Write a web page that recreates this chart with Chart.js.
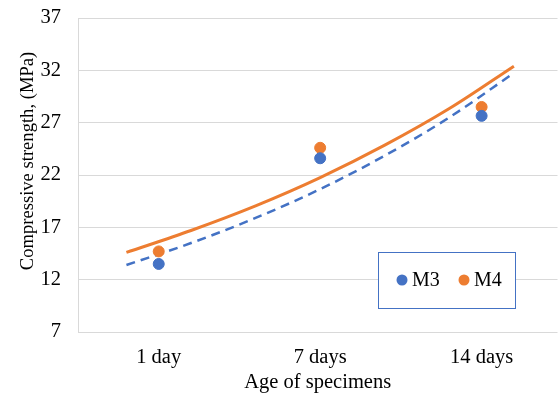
<!DOCTYPE html>
<html>
<head>
<meta charset="utf-8">
<script src="https://cdn.jsdelivr.net/npm/chart.js@4/dist/chart.umd.min.js"></script>
<style>
  html, body { margin: 0; padding: 0; background: #fff; overflow: hidden; }
  #wrap { width: 558px; height: 398px; position: relative; overflow: hidden; }
</style>
</head>
<body>
<!-- canvas a little wider than the picture: the plot area runs off the right edge -->
<div id="wrap"><canvas id="chart" width="564" height="398"></canvas></div>
<script>
const categories = ['1 day', '7 days', '14 days'];
const catIndex = [1, 2, 3];
const m3Values = [13.5, 23.6, 27.65];
const m4Values = [14.7, 24.6, 28.5];

// trendline positions (category units, forecast 0.2 either side)
const trendX = [0.8, 1.2, 1.6, 2.0, 2.4, 2.8, 3.2];
const m3Trend = [13.4, 15.5, 17.9, 20.65, 23.85, 27.5, 31.75];
const m4Trend = [14.6, 16.7, 19.05, 21.75, 24.85, 28.35, 32.4];

const yTicks = [7, 12, 17, 22, 27, 32, 37];

const blue = '#4472C4';
const orange = '#ED7D31';
const font = 'Liberation Serif, Times New Roman, serif';

const pts = (xs, ys) => xs.map((x, i) => ({ x, y: ys[i] }));

// legend box and the y title (Excel puts it a bit above the plot centre)
const extras = {
  id: 'extras',
  afterDraw(chart) {
    const ctx = chart.ctx;
    ctx.save();
    ctx.fillStyle = '#fff';
    ctx.fillRect(378, 252, 138, 57);
    ctx.strokeStyle = blue;
    ctx.lineWidth = 1;
    ctx.strokeRect(378.5, 252.5, 137, 56);
    const items = [
      { label: 'M3', color: blue, dot: 402, text: 412 },
      { label: 'M4', color: orange, dot: 464, text: 474 }
    ];
    ctx.font = '20px ' + font;
    ctx.textBaseline = 'middle';
    items.forEach(it => {
      ctx.fillStyle = it.color;
      ctx.beginPath();
      ctx.arc(it.dot, 280, 5.5, 0, Math.PI * 2);
      ctx.fill();
      ctx.fillStyle = '#000';
      ctx.fillText(it.label, it.text, 281);
    });

    ctx.translate(28, 161);
    ctx.rotate(-Math.PI / 2);
    ctx.font = '18.6px ' + font;
    ctx.textAlign = 'center';
    ctx.fillStyle = '#000';
    ctx.fillText('Compressive strength, (MPa)', 0, 0);
    ctx.restore();
  }
};

const ctx = document.getElementById('chart').getContext('2d');
new Chart(ctx, {
  type: 'scatter',
  data: {
    datasets: [
      {
        label: 'M3',
        data: pts(catIndex, m3Values),
        backgroundColor: blue,
        borderColor: blue,
        pointRadius: 5.5,
        order: 0
      },
      {
        label: 'M4',
        data: pts(catIndex, m4Values),
        backgroundColor: orange,
        borderColor: orange,
        pointRadius: 5.5,
        order: 0
      },
      {
        label: 'M3 trend',
        data: pts(trendX, m3Trend),
        showLine: true,
        borderColor: blue,
        borderWidth: 2.5,
        borderDash: [9, 6],
        pointRadius: 0,
        cubicInterpolationMode: 'monotone',
        order: 2
      },
      {
        label: 'M4 trend',
        data: pts(trendX, m4Trend),
        showLine: true,
        borderColor: orange,
        borderWidth: 3,
        pointRadius: 0,
        cubicInterpolationMode: 'monotone',
        order: 1
      }
    ]
  },
  options: {
    responsive: false,
    animation: false,
    layout: { padding: { top: 0, right: 0, bottom: 3, left: 0 } },
    plugins: {
      legend: { display: false },
      tooltip: { enabled: false }
    },
    scales: {
      x: {
        type: 'linear',
        min: 0.5,
        max: 3.47,
        afterBuildTicks: axis => { axis.ticks = catIndex.map(v => ({ value: v })); },
        afterFit: axis => {
          axis.height = 63;
          axis.paddingLeft = 0;
          axis.paddingRight = 0;
        },
        ticks: {
          callback: v => categories[v - 1],
          color: '#000',
          font: { family: font, size: 20.5 },
          padding: 13,
          maxRotation: 0
        },
        grid: { display: false, drawTicks: false },
        border: { display: false },
        title: {
          display: true,
          text: 'Age of specimens',
          color: '#000',
          font: { family: font, size: 20.5 },
          padding: { top: 0, bottom: 0 }
        }
      },
      y: {
        min: 7,
        max: 37,
        afterBuildTicks: axis => { axis.ticks = yTicks.map(v => ({ value: v })); },
        afterFit: axis => {
          axis.width = 78;
          axis.paddingTop = 18;
          axis.paddingBottom = 0;
          axis.paddingLeft = 0;
          axis.paddingRight = 0;
        },
        ticks: {
          color: '#000',
          font: { family: font, size: 20.5 },
          padding: 17
        },
        grid: { color: '#d9d9d9', lineWidth: 1, drawTicks: false },
        border: { display: true, color: '#d9d9d9' }
      }
    }
  },
  plugins: [extras]
});
</script>
</body>
</html>
